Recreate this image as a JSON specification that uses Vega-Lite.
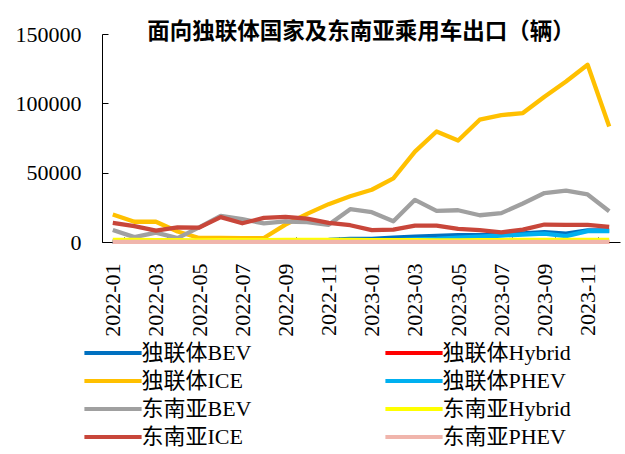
{
  "$schema": "https://vega.github.io/schema/vega-lite/v6.json",
  "width": 518,
  "height": 208,
  "autosize": {"type": "none"},
  "padding": {"left": 102, "top": 34, "right": 5, "bottom": 212},
  "background": "white",
  "title": {
    "text": "面向独联体国家及东南亚乘用车出口（辆）",
    "font": "Noto Sans CJK SC",
    "fontSize": 22.5,
    "fontWeight": "bold",
    "color": "black",
    "anchor": "middle",
    "offset": -20
  },
  "config": {
    "view": {"stroke": null},
    "axis": {
      "labelFont": "Liberation Serif",
      "labelFontSize": 22,
      "labelColor": "black",
      "domainColor": "black",
      "domainWidth": 1,
      "tickColor": "black",
      "tickWidth": 1,
      "grid": false,
      "title": null
    }
  },
  "datasets": {
    "rows": [
      {"month": "2022-01", "series": "独联体BEV", "value": 300},
      {"month": "2022-02", "series": "独联体BEV", "value": 300},
      {"month": "2022-03", "series": "独联体BEV", "value": 300},
      {"month": "2022-04", "series": "独联体BEV", "value": 300},
      {"month": "2022-05", "series": "独联体BEV", "value": 300},
      {"month": "2022-06", "series": "独联体BEV", "value": 300},
      {"month": "2022-07", "series": "独联体BEV", "value": 400},
      {"month": "2022-08", "series": "独联体BEV", "value": 700},
      {"month": "2022-09", "series": "独联体BEV", "value": 1000},
      {"month": "2022-10", "series": "独联体BEV", "value": 1200},
      {"month": "2022-11", "series": "独联体BEV", "value": 1500},
      {"month": "2022-12", "series": "独联体BEV", "value": 2300},
      {"month": "2023-01", "series": "独联体BEV", "value": 2200},
      {"month": "2023-02", "series": "独联体BEV", "value": 3200},
      {"month": "2023-03", "series": "独联体BEV", "value": 3900},
      {"month": "2023-04", "series": "独联体BEV", "value": 4400},
      {"month": "2023-05", "series": "独联体BEV", "value": 5000},
      {"month": "2023-06", "series": "独联体BEV", "value": 4900},
      {"month": "2023-07", "series": "独联体BEV", "value": 5200},
      {"month": "2023-08", "series": "独联体BEV", "value": 6200},
      {"month": "2023-09", "series": "独联体BEV", "value": 7100},
      {"month": "2023-10", "series": "独联体BEV", "value": 6100},
      {"month": "2023-11", "series": "独联体BEV", "value": 8300},
      {"month": "2023-12", "series": "独联体BEV", "value": 8300},

      {"month": "2022-01", "series": "独联体Hybrid", "value": 100},
      {"month": "2022-02", "series": "独联体Hybrid", "value": 100},
      {"month": "2022-03", "series": "独联体Hybrid", "value": 100},
      {"month": "2022-04", "series": "独联体Hybrid", "value": 100},
      {"month": "2022-05", "series": "独联体Hybrid", "value": 100},
      {"month": "2022-06", "series": "独联体Hybrid", "value": 100},
      {"month": "2022-07", "series": "独联体Hybrid", "value": 100},
      {"month": "2022-08", "series": "独联体Hybrid", "value": 100},
      {"month": "2022-09", "series": "独联体Hybrid", "value": 100},
      {"month": "2022-10", "series": "独联体Hybrid", "value": 100},
      {"month": "2022-11", "series": "独联体Hybrid", "value": 100},
      {"month": "2022-12", "series": "独联体Hybrid", "value": 100},
      {"month": "2023-01", "series": "独联体Hybrid", "value": 100},
      {"month": "2023-02", "series": "独联体Hybrid", "value": 100},
      {"month": "2023-03", "series": "独联体Hybrid", "value": 100},
      {"month": "2023-04", "series": "独联体Hybrid", "value": 100},
      {"month": "2023-05", "series": "独联体Hybrid", "value": 100},
      {"month": "2023-06", "series": "独联体Hybrid", "value": 100},
      {"month": "2023-07", "series": "独联体Hybrid", "value": 100},
      {"month": "2023-08", "series": "独联体Hybrid", "value": 100},
      {"month": "2023-09", "series": "独联体Hybrid", "value": 100},
      {"month": "2023-10", "series": "独联体Hybrid", "value": 100},
      {"month": "2023-11", "series": "独联体Hybrid", "value": 100},
      {"month": "2023-12", "series": "独联体Hybrid", "value": 100},

      {"month": "2022-01", "series": "独联体ICE", "value": 19800},
      {"month": "2022-02", "series": "独联体ICE", "value": 14600},
      {"month": "2022-03", "series": "独联体ICE", "value": 14600},
      {"month": "2022-04", "series": "独联体ICE", "value": 7600},
      {"month": "2022-05", "series": "独联体ICE", "value": 2900},
      {"month": "2022-06", "series": "独联体ICE", "value": 2900},
      {"month": "2022-07", "series": "独联体ICE", "value": 2700},
      {"month": "2022-08", "series": "独联体ICE", "value": 2900},
      {"month": "2022-09", "series": "独联体ICE", "value": 12500},
      {"month": "2022-10", "series": "独联体ICE", "value": 20300},
      {"month": "2022-11", "series": "独联体ICE", "value": 27300},
      {"month": "2022-12", "series": "独联体ICE", "value": 33000},
      {"month": "2023-01", "series": "独联体ICE", "value": 37700},
      {"month": "2023-02", "series": "独联体ICE", "value": 45900},
      {"month": "2023-03", "series": "独联体ICE", "value": 65200},
      {"month": "2023-04", "series": "独联体ICE", "value": 79700},
      {"month": "2023-05", "series": "独联体ICE", "value": 73200},
      {"month": "2023-06", "series": "独联体ICE", "value": 88200},
      {"month": "2023-07", "series": "独联体ICE", "value": 91500},
      {"month": "2023-08", "series": "独联体ICE", "value": 93000},
      {"month": "2023-09", "series": "独联体ICE", "value": 104800},
      {"month": "2023-10", "series": "独联体ICE", "value": 115700},
      {"month": "2023-11", "series": "独联体ICE", "value": 127800},
      {"month": "2023-12", "series": "独联体ICE", "value": 83300},

      {"month": "2022-01", "series": "独联体PHEV", "value": 200},
      {"month": "2022-02", "series": "独联体PHEV", "value": 200},
      {"month": "2022-03", "series": "独联体PHEV", "value": 200},
      {"month": "2022-04", "series": "独联体PHEV", "value": 200},
      {"month": "2022-05", "series": "独联体PHEV", "value": 200},
      {"month": "2022-06", "series": "独联体PHEV", "value": 200},
      {"month": "2022-07", "series": "独联体PHEV", "value": 200},
      {"month": "2022-08", "series": "独联体PHEV", "value": 200},
      {"month": "2022-09", "series": "独联体PHEV", "value": 200},
      {"month": "2022-10", "series": "独联体PHEV", "value": 300},
      {"month": "2022-11", "series": "独联体PHEV", "value": 300},
      {"month": "2022-12", "series": "独联体PHEV", "value": 500},
      {"month": "2023-01", "series": "独联体PHEV", "value": 800},
      {"month": "2023-02", "series": "独联体PHEV", "value": 1200},
      {"month": "2023-03", "series": "独联体PHEV", "value": 1800},
      {"month": "2023-04", "series": "独联体PHEV", "value": 2300},
      {"month": "2023-05", "series": "独联体PHEV", "value": 3200},
      {"month": "2023-06", "series": "独联体PHEV", "value": 3800},
      {"month": "2023-07", "series": "独联体PHEV", "value": 4700},
      {"month": "2023-08", "series": "独联体PHEV", "value": 5300},
      {"month": "2023-09", "series": "独联体PHEV", "value": 6100},
      {"month": "2023-10", "series": "独联体PHEV", "value": 4200},
      {"month": "2023-11", "series": "独联体PHEV", "value": 7800},
      {"month": "2023-12", "series": "独联体PHEV", "value": 7800},

      {"month": "2022-01", "series": "东南亚BEV", "value": 8700},
      {"month": "2022-02", "series": "东南亚BEV", "value": 3500},
      {"month": "2022-03", "series": "东南亚BEV", "value": 6800},
      {"month": "2022-04", "series": "东南亚BEV", "value": 2800},
      {"month": "2022-05", "series": "东南亚BEV", "value": 10500},
      {"month": "2022-06", "series": "东南亚BEV", "value": 18800},
      {"month": "2022-07", "series": "东南亚BEV", "value": 16500},
      {"month": "2022-08", "series": "东南亚BEV", "value": 13400},
      {"month": "2022-09", "series": "东南亚BEV", "value": 14800},
      {"month": "2022-10", "series": "东南亚BEV", "value": 14300},
      {"month": "2022-11", "series": "东南亚BEV", "value": 12400},
      {"month": "2022-12", "series": "东南亚BEV", "value": 23700},
      {"month": "2023-01", "series": "东南亚BEV", "value": 21500},
      {"month": "2023-02", "series": "东南亚BEV", "value": 15000},
      {"month": "2023-03", "series": "东南亚BEV", "value": 30400},
      {"month": "2023-04", "series": "东南亚BEV", "value": 22500},
      {"month": "2023-05", "series": "东南亚BEV", "value": 22900},
      {"month": "2023-06", "series": "东南亚BEV", "value": 19300},
      {"month": "2023-07", "series": "东南亚BEV", "value": 20800},
      {"month": "2023-08", "series": "东南亚BEV", "value": 27800},
      {"month": "2023-09", "series": "东南亚BEV", "value": 35300},
      {"month": "2023-10", "series": "东南亚BEV", "value": 37000},
      {"month": "2023-11", "series": "东南亚BEV", "value": 34300},
      {"month": "2023-12", "series": "东南亚BEV", "value": 22200},

      {"month": "2022-01", "series": "东南亚Hybrid", "value": 1500},
      {"month": "2022-02", "series": "东南亚Hybrid", "value": 1500},
      {"month": "2022-03", "series": "东南亚Hybrid", "value": 1400},
      {"month": "2022-04", "series": "东南亚Hybrid", "value": 1300},
      {"month": "2022-05", "series": "东南亚Hybrid", "value": 1200},
      {"month": "2022-06", "series": "东南亚Hybrid", "value": 1300},
      {"month": "2022-07", "series": "东南亚Hybrid", "value": 1400},
      {"month": "2022-08", "series": "东南亚Hybrid", "value": 1400},
      {"month": "2022-09", "series": "东南亚Hybrid", "value": 1500},
      {"month": "2022-10", "series": "东南亚Hybrid", "value": 1500},
      {"month": "2022-11", "series": "东南亚Hybrid", "value": 1600},
      {"month": "2022-12", "series": "东南亚Hybrid", "value": 1500},
      {"month": "2023-01", "series": "东南亚Hybrid", "value": 1400},
      {"month": "2023-02", "series": "东南亚Hybrid", "value": 1300},
      {"month": "2023-03", "series": "东南亚Hybrid", "value": 1300},
      {"month": "2023-04", "series": "东南亚Hybrid", "value": 1200},
      {"month": "2023-05", "series": "东南亚Hybrid", "value": 1200},
      {"month": "2023-06", "series": "东南亚Hybrid", "value": 1300},
      {"month": "2023-07", "series": "东南亚Hybrid", "value": 1400},
      {"month": "2023-08", "series": "东南亚Hybrid", "value": 1500},
      {"month": "2023-09", "series": "东南亚Hybrid", "value": 1500},
      {"month": "2023-10", "series": "东南亚Hybrid", "value": 1600},
      {"month": "2023-11", "series": "东南亚Hybrid", "value": 1600},
      {"month": "2023-12", "series": "东南亚Hybrid", "value": 1500},

      {"month": "2022-01", "series": "东南亚ICE", "value": 13800},
      {"month": "2022-02", "series": "东南亚ICE", "value": 11400},
      {"month": "2022-03", "series": "东南亚ICE", "value": 8200},
      {"month": "2022-04", "series": "东南亚ICE", "value": 10600},
      {"month": "2022-05", "series": "东南亚ICE", "value": 10400},
      {"month": "2022-06", "series": "东南亚ICE", "value": 17900},
      {"month": "2022-07", "series": "东南亚ICE", "value": 13500},
      {"month": "2022-08", "series": "东南亚ICE", "value": 17400},
      {"month": "2022-09", "series": "东南亚ICE", "value": 18100},
      {"month": "2022-10", "series": "东南亚ICE", "value": 16900},
      {"month": "2022-11", "series": "东南亚ICE", "value": 13800},
      {"month": "2022-12", "series": "东南亚ICE", "value": 12100},
      {"month": "2023-01", "series": "东南亚ICE", "value": 8500},
      {"month": "2023-02", "series": "东南亚ICE", "value": 8900},
      {"month": "2023-03", "series": "东南亚ICE", "value": 11800},
      {"month": "2023-04", "series": "东南亚ICE", "value": 11800},
      {"month": "2023-05", "series": "东南亚ICE", "value": 9400},
      {"month": "2023-06", "series": "东南亚ICE", "value": 8500},
      {"month": "2023-07", "series": "东南亚ICE", "value": 7000},
      {"month": "2023-08", "series": "东南亚ICE", "value": 8900},
      {"month": "2023-09", "series": "东南亚ICE", "value": 12600},
      {"month": "2023-10", "series": "东南亚ICE", "value": 12300},
      {"month": "2023-11", "series": "东南亚ICE", "value": 12300},
      {"month": "2023-12", "series": "东南亚ICE", "value": 10900},

      {"month": "2022-01", "series": "东南亚PHEV", "value": 100},
      {"month": "2022-02", "series": "东南亚PHEV", "value": 100},
      {"month": "2022-03", "series": "东南亚PHEV", "value": 100},
      {"month": "2022-04", "series": "东南亚PHEV", "value": 100},
      {"month": "2022-05", "series": "东南亚PHEV", "value": 100},
      {"month": "2022-06", "series": "东南亚PHEV", "value": 100},
      {"month": "2022-07", "series": "东南亚PHEV", "value": 100},
      {"month": "2022-08", "series": "东南亚PHEV", "value": 100},
      {"month": "2022-09", "series": "东南亚PHEV", "value": 100},
      {"month": "2022-10", "series": "东南亚PHEV", "value": 100},
      {"month": "2022-11", "series": "东南亚PHEV", "value": 100},
      {"month": "2022-12", "series": "东南亚PHEV", "value": 100},
      {"month": "2023-01", "series": "东南亚PHEV", "value": 100},
      {"month": "2023-02", "series": "东南亚PHEV", "value": 100},
      {"month": "2023-03", "series": "东南亚PHEV", "value": 100},
      {"month": "2023-04", "series": "东南亚PHEV", "value": 100},
      {"month": "2023-05", "series": "东南亚PHEV", "value": 100},
      {"month": "2023-06", "series": "东南亚PHEV", "value": 100},
      {"month": "2023-07", "series": "东南亚PHEV", "value": 100},
      {"month": "2023-08", "series": "东南亚PHEV", "value": 100},
      {"month": "2023-09", "series": "东南亚PHEV", "value": 100},
      {"month": "2023-10", "series": "东南亚PHEV", "value": 100},
      {"month": "2023-11", "series": "东南亚PHEV", "value": 100},
      {"month": "2023-12", "series": "东南亚PHEV", "value": 100}
    ]
  },
  "data": {"name": "rows"},
  "mark": {"type": "line", "strokeWidth": 4.3, "strokeJoin": "round"},
  "encoding": {
    "x": {
      "field": "month",
      "type": "ordinal",
      "scale": {"type": "band", "paddingInner": 0, "paddingOuter": 0},
      "axis": {
        "values": ["2022-01", "2022-03", "2022-05", "2022-07", "2022-09", "2022-11", "2023-01", "2023-03", "2023-05", "2023-07", "2023-09", "2023-11"],
        "labelAngle": -90,
        "tickBand": "extent",
        "tickSize": -5,
        "labelPadding": 26
      }
    },
    "y": {
      "field": "value",
      "type": "quantitative",
      "scale": {"domain": [0, 150000], "nice": false},
      "axis": {
        "values": [0, 50000, 100000, 150000],
        "format": "d",
        "tickSize": -6,
        "labelPadding": 27
      }
    },
    "color": {
      "field": "series",
      "type": "nominal",
      "scale": {
        "domain": ["独联体BEV", "独联体Hybrid", "独联体ICE", "独联体PHEV", "东南亚BEV", "东南亚Hybrid", "东南亚ICE", "东南亚PHEV"],
        "range": ["#0070C0", "#FF0000", "#FFC000", "#00B0F0", "#A0A0A0", "#FFFF00", "#C8463A", "#F0B5AC"]
      },
      "legend": {
        "orient": "none",
        "direction": "horizontal",
        "legendX": 0,
        "legendY": 308,
        "columns": 2,
        "title": null,
        "padding": 0,
        "symbolType": "M-5.2,0H5.2",
        "symbolSize": 121,
        "symbolStrokeWidth": 4,
        "labelFont": "Liberation Serif, Noto Sans CJK SC",
        "labelFontSize": 22,
        "labelColor": "black",
        "labelOffset": 17.5,
        "labelLimit": 300,
        "columnPadding": 125,
        "rowPadding": 6
      }
    }
  }
}
